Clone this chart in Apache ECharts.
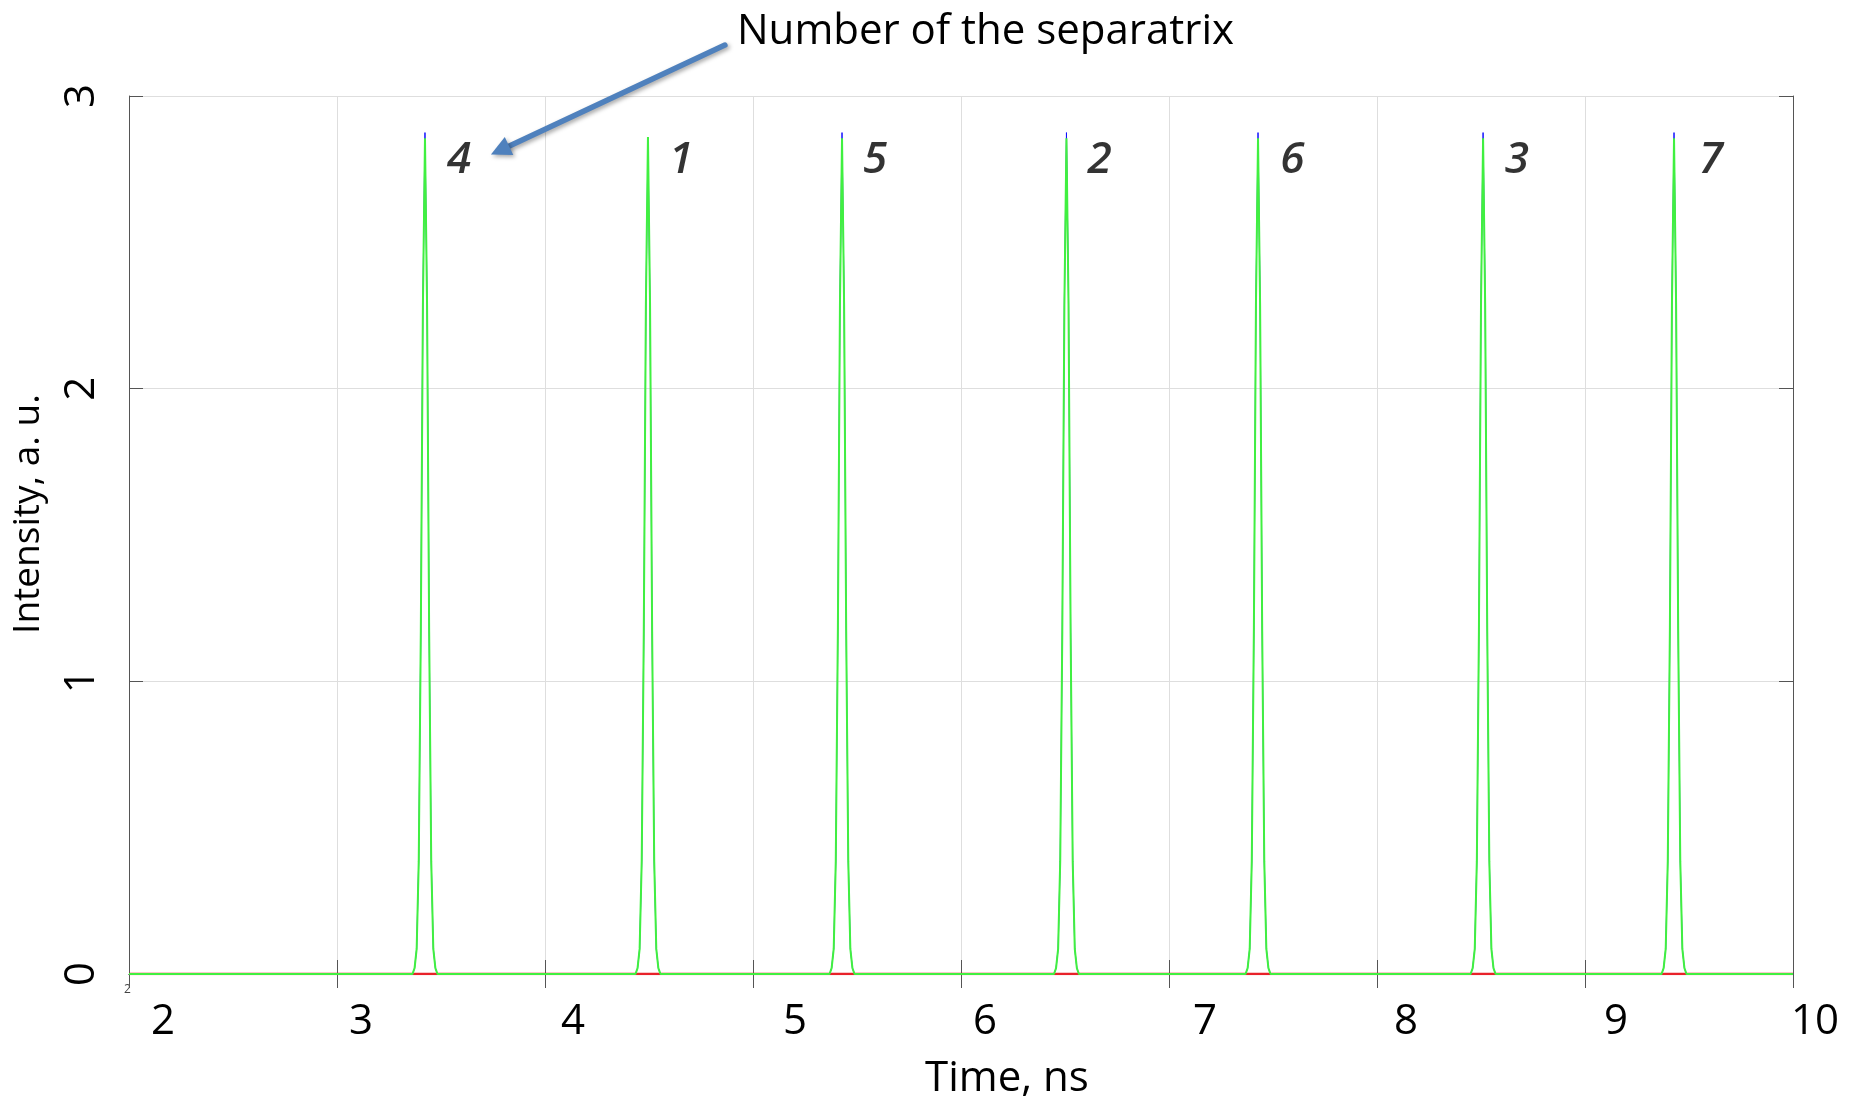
<!DOCTYPE html>
<html><head><meta charset="utf-8">
<script src="https://cdn.jsdelivr.net/npm/echarts@6/dist/echarts.min.js"></script>
<style>html,body{margin:0;padding:0;background:#fff}#c{width:1854px;height:1098px}</style>
</head><body><div id="c"></div>
<script>
// ---------------- data ----------------
const peakTimes = [3.423, 4.495, 5.428, 6.507, 7.428, 8.51, 9.428];      // ns
const greenHeights = [2.856, 2.86, 2.856, 2.856, 2.856, 2.856, 2.856];    // a.u.
const blueHeights  = [2.875, 2.84, 2.875, 2.875, 2.875, 2.875, 2.875];    // a.u.
const pulseOffsets = [-0.06, -0.05, -0.04, -0.03, -0.02, -0.01, 0, 0.01, 0.02, 0.03, 0.04, 0.05, 0.06]; // ns
const pulseShape   = [0, 0.007, 0.03, 0.135, 0.41, 0.80, 1, 0.80, 0.41, 0.135, 0.03, 0.007, 0];
const separatrixNumbers = ['4', '1', '5', '2', '6', '3', '7'];
const labelTimes = [3.587, 4.654, 5.587, 6.666, 7.593, 8.673, 9.606];
const labelLevel = 2.78;
const timeRange = [2, 10];
const intensityRange = [0, 3];
const arrowFrom = [4.865, 3.174];
const arrowTo = [3.74, 2.80];

// ---------------- build series data ----------------
function pulseTrain(heights) {
  const out = [[timeRange[0], 0]];
  peakTimes.forEach((t, i) => {
    pulseOffsets.forEach((o, j) => out.push([+(t + o).toFixed(4), +(heights[i] * pulseShape[j]).toFixed(4)]));
  });
  out.push([timeRange[1], 0]);
  return out;
}
const greenData = pulseTrain(greenHeights);
const blueData = pulseTrain(blueHeights);
const redData = [[timeRange[0], 0], [timeRange[1], 0]];
const labelData = labelTimes.map((t, i) => [t, labelLevel, separatrixNumbers[i]]);

// ---------------- layout / style ----------------
const FONT = 'Open Sans';
const xNudge = {2: 34, 3: 24, 4: 28, 5: 42, 6: 24, 7: 36, 8: 29, 9: 31, 10: 22};
const rich = {};
Object.keys(xNudge).forEach(k => {
  rich['t' + k] = {fontSize: 42, fontFamily: FONT, color: '#000', padding: [0, 0, 0, 2 * xNudge[k]]};
});

const chart = echarts.init(document.getElementById('c'), null, {renderer: 'canvas'});
const frame = {lineStyle: {color: '#555', width: 1}};
chart.setOption({
  animation: false,
  backgroundColor: '#fff',
  title: {
    text: 'Number of the separatrix', left: 737, top: 11, padding: 0,
    textStyle: {fontFamily: FONT, fontSize: 42, fontWeight: 'normal', color: '#000'}
  },
  grid: {left: 129, right: 61, top: 96, bottom: 124, containLabel: false, outerBoundsMode: 'none'},
  xAxis: [{
    type: 'value', min: timeRange[0], max: timeRange[1], interval: 1,
    name: 'Time, ns', nameLocation: 'middle', nameGap: 84,
    nameTextStyle: {fontFamily: FONT, fontSize: 42, color: '#000', padding: [0, 0, 0, 92]},
    axisLine: {show: true, ...frame},
    axisTick: {show: true, inside: true, length: 14, lineStyle: {color: '#555'}},
    axisLabel: {
      margin: 27, showMinLabel: true, showMaxLabel: true, hideOverlap: false,
      formatter: v => '{t' + v + '|' + v + '}', rich: rich
    },
    splitLine: {show: true, lineStyle: {color: '#dedede', width: 1}}
  }, {
    type: 'value', position: 'top', min: timeRange[0], max: timeRange[1], interval: 1,
    axisLine: {show: true, ...frame},
    axisTick: {show: true, inside: true, length: 14, lineStyle: {color: '#555'}},
    axisLabel: {show: false}, splitLine: {show: false}
  }],
  yAxis: [{
    type: 'value', min: intensityRange[0], max: intensityRange[1], interval: 1,
    name: 'Intensity, a. u.', nameLocation: 'middle', nameGap: 82, nameRotate: 90,
    nameTextStyle: {fontFamily: FONT, fontSize: 37, color: '#000', padding: [0, 0, 0, 42]},
    axisLine: {show: true, ...frame},
    axisTick: {show: true, inside: true, length: 14, lineStyle: {color: '#555'}},
    axisLabel: {rotate: 90, margin: 26, fontFamily: FONT, fontSize: 42, color: '#000'},
    splitLine: {show: true, lineStyle: {color: '#dedede', width: 1}}
  }, {
    type: 'value', position: 'right', min: intensityRange[0], max: intensityRange[1], interval: 1,
    axisLine: {show: true, ...frame},
    axisTick: {show: true, inside: true, length: 14, lineStyle: {color: '#555'}},
    axisLabel: {show: false}, splitLine: {show: false}
  }],
  series: [
    {type: 'line', name: 'red', data: redData, showSymbol: false, symbol: 'none',
     lineStyle: {color: '#e8222a', width: 2.5}, z: 2},
    {type: 'line', name: 'blue', data: blueData, showSymbol: false, symbol: 'none',
     lineStyle: {color: '#1010ff', width: 1}, z: 3},
    {type: 'line', name: 'green', data: greenData, showSymbol: false, symbol: 'none',
     lineStyle: {color: '#40f040', width: 2}, z: 4},
    {type: 'scatter', name: 'labels', data: labelData, symbolSize: 0, z: 5,
     label: {show: true, position: 'inside', formatter: p => p.data[2],
             fontFamily: FONT, fontStyle: 'italic', fontWeight: 600, fontSize: 44, color: '#000'}}
  ],
  graphic: [{
    type: 'text', left: 124, top: 984,
    style: {text: '2', fontFamily: FONT, fontSize: 12, fill: '#444'}
  }]
});

// annotation arrow, placed through the grid's own data scale
const s = chart.convertToPixel({gridIndex: 0}, arrowFrom);
const t = chart.convertToPixel({gridIndex: 0}, arrowTo);
const dx = t[0] - s[0], dy = t[1] - s[1], len = Math.hypot(dx, dy);
const ux = dx / len, uy = dy / len, nx = -uy, ny = ux;
const headL = 20, headW = 10;
const bx = t[0] - headL * ux, by = t[1] - headL * uy;
const shadow = {shadowBlur: 4, shadowOffsetX: 2, shadowOffsetY: 2, shadowColor: 'rgba(0,0,0,0.35)'};
chart.setOption({
  graphic: [{
    type: 'text', left: 124, top: 984,
    style: {text: '2', fontFamily: FONT, fontSize: 12, fill: '#444'}
  }, {
    type: 'line', z: 10,
    shape: {x1: s[0], y1: s[1], x2: bx + 2 * ux, y2: by + 2 * uy},
    style: {stroke: '#4f81bd', lineWidth: 5.5, lineCap: 'round', ...shadow}
  }, {
    type: 'polygon', z: 10,
    shape: {points: [[t[0], t[1]], [bx + headW * nx, by + headW * ny], [bx - headW * nx, by - headW * ny]]},
    style: {fill: '#4f81bd', ...shadow}
  }]
});
</script>
</body></html>
